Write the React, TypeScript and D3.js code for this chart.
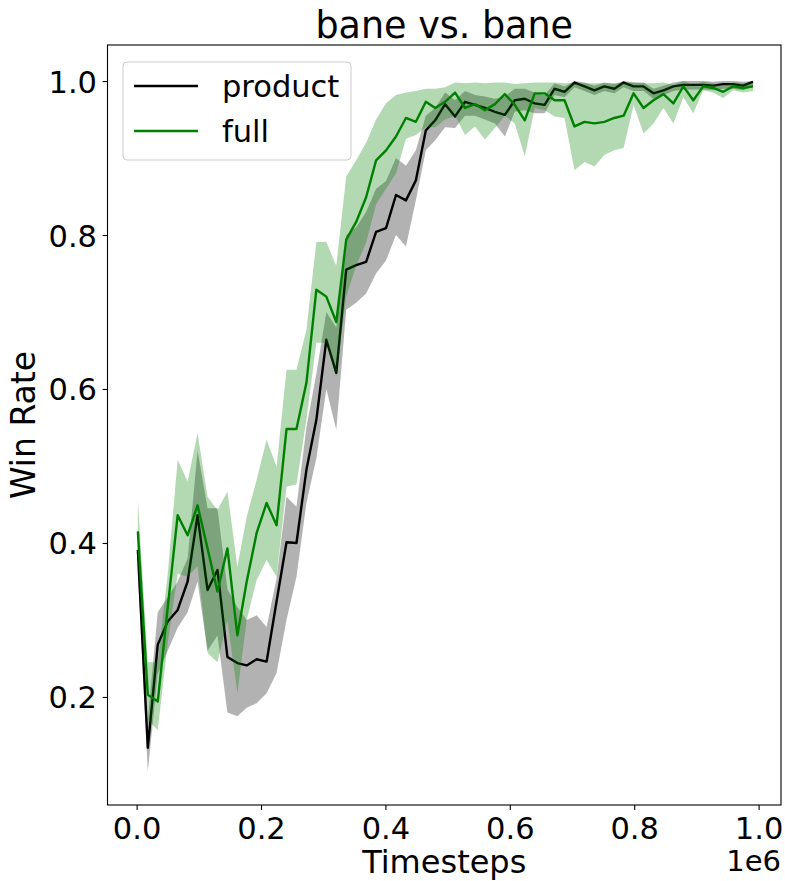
import { useEffect, useRef } from "react";
import * as d3 from "d3";

// timesteps in units of 1e6
const timesteps = [
  0.002, 0.018, 0.034, 0.050, 0.066, 0.082, 0.098, 0.114, 0.130, 0.146,
  0.162, 0.177, 0.193, 0.209, 0.225, 0.241, 0.257, 0.273, 0.289, 0.305,
  0.321, 0.337, 0.353, 0.369, 0.385, 0.401, 0.417, 0.433, 0.449, 0.465,
  0.480, 0.496, 0.512, 0.528, 0.544, 0.560, 0.576, 0.592, 0.608, 0.624,
  0.640, 0.656, 0.672, 0.688, 0.704, 0.720, 0.736, 0.752, 0.768, 0.783,
  0.799, 0.815, 0.831, 0.847, 0.863, 0.879, 0.895, 0.911, 0.927, 0.943,
  0.959, 0.975, 0.991,
];

const product = [
  0.391, 0.134, 0.268, 0.298, 0.313, 0.350, 0.436, 0.339, 0.365, 0.252,
  0.244, 0.241, 0.249, 0.246, 0.324, 0.401, 0.400, 0.495, 0.560, 0.664,
  0.621, 0.755, 0.761, 0.765, 0.804, 0.809, 0.852, 0.845, 0.871, 0.936,
  0.949, 0.970, 0.954, 0.973, 0.969, 0.965, 0.960, 0.956, 0.975, 0.977,
  0.971, 0.969, 0.990, 0.986, 0.998, 0.993, 0.988, 0.993, 0.990, 0.998,
  0.993, 0.993, 0.984, 0.988, 0.993, 0.995, 0.995, 0.995, 0.994, 0.996,
  0.996, 0.994, 0.999,
];
const productLow = [
  0.360, 0.103, 0.230, 0.260, 0.290, 0.310, 0.350, 0.260, 0.280, 0.180,
  0.175, 0.186, 0.192, 0.205, 0.231, 0.300, 0.356, 0.452, 0.510, 0.600,
  0.547, 0.703, 0.712, 0.724, 0.750, 0.767, 0.800, 0.785, 0.845, 0.910,
  0.923, 0.940, 0.939, 0.955, 0.955, 0.950, 0.945, 0.928, 0.960, 0.962,
  0.958, 0.958, 0.982, 0.979, 0.992, 0.987, 0.982, 0.987, 0.984, 0.992,
  0.987, 0.987, 0.977, 0.982, 0.987, 0.989, 0.989, 0.989, 0.988, 0.990,
  0.990, 0.988, 0.993,
];
const productHigh = [
  0.420, 0.170, 0.310, 0.330, 0.350, 0.380, 0.520, 0.445, 0.445, 0.340,
  0.317, 0.300, 0.306, 0.291, 0.354, 0.460, 0.447, 0.550, 0.620, 0.700,
  0.680, 0.800, 0.810, 0.830, 0.860, 0.870, 0.900, 0.890, 0.910, 0.955,
  0.965, 0.985, 0.975, 0.987, 0.982, 0.980, 0.977, 0.980, 0.990, 0.990,
  0.985, 0.982, 0.997, 0.993, 1.000, 0.998, 0.994, 0.998, 0.996, 1.000,
  0.998, 0.998, 0.990, 0.994, 0.998, 1.000, 1.000, 1.000, 0.999, 1.000,
  1.000, 0.999, 1.000,
];

const full = [
  0.415, 0.203, 0.194, 0.316, 0.436, 0.410, 0.449, 0.393, 0.337, 0.393,
  0.280, 0.350, 0.413, 0.452, 0.423, 0.548, 0.548, 0.608, 0.729, 0.720,
  0.687, 0.794, 0.817, 0.849, 0.897, 0.910, 0.928, 0.952, 0.947, 0.973,
  0.965, 0.973, 0.985, 0.965, 0.970, 0.962, 0.970, 0.983, 0.969, 0.949,
  0.984, 0.984, 0.975, 0.975, 0.941, 0.947, 0.945, 0.947, 0.952, 0.955,
  0.984, 0.965, 0.975, 0.983, 0.971, 0.993, 0.975, 0.993, 0.991, 0.986,
  0.993, 0.991, 0.993,
];
const fullLow = [
  0.375, 0.170, 0.157, 0.270, 0.360, 0.356, 0.370, 0.257, 0.245, 0.300,
  0.205, 0.300, 0.352, 0.378, 0.356, 0.473, 0.476, 0.560, 0.660, 0.660,
  0.616, 0.720, 0.760, 0.790, 0.840, 0.860, 0.880, 0.925, 0.930, 0.940,
  0.940, 0.950, 0.955, 0.930, 0.941, 0.924, 0.939, 0.955, 0.945, 0.902,
  0.965, 0.962, 0.954, 0.952, 0.884, 0.895, 0.889, 0.904, 0.910, 0.913,
  0.969, 0.932, 0.945, 0.965, 0.945, 0.979, 0.958, 0.988, 0.985, 0.978,
  0.988, 0.985, 0.987,
];
const fullHigh = [
  0.456, 0.245, 0.245, 0.360, 0.508, 0.480, 0.543, 0.460, 0.443, 0.467,
  0.369, 0.434, 0.482, 0.534, 0.499, 0.625, 0.625, 0.677, 0.791, 0.791,
  0.760, 0.876, 0.897, 0.920, 0.950, 0.971, 0.982, 0.985, 0.987, 0.990,
  0.990, 0.992, 0.998, 0.997, 0.998, 0.997, 0.998, 0.998, 0.996, 0.997,
  0.998, 0.998, 0.998, 0.997, 0.997, 0.997, 0.997, 0.997, 0.997, 0.997,
  0.998, 0.997, 0.997, 0.998, 0.995, 1.000, 0.995, 0.999, 0.997, 0.994,
  0.998, 0.997, 0.998,
];

const xTicks = [0, 0.2, 0.4, 0.6, 0.8, 1.0];
const yTicks = [0.2, 0.4, 0.6, 0.8, 1.0];

const series = [
  { name: "product", color: "#000000", mean: product, low: productLow, high: productHigh },
  { name: "full", color: "#008000", mean: full, low: fullLow, high: fullHigh },
];

const W = 785;
const H = 881;
const box = { left: 107.5, right: 781, top: 45, bottom: 805 };
const FONT = "DejaVu Sans, sans-serif";

export default function App() {
  const xAxisRef = useRef<SVGGElement>(null);
  const yAxisRef = useRef<SVGGElement>(null);

  const x = d3.scaleLinear().domain([-0.0468, 1.036]).range([box.left, box.right]);
  const y = d3.scaleLinear().domain([0.0597, 1.0468]).range([box.bottom, box.top]);

  useEffect(() => {
    const xAxis = d3.axisBottom(x).tickValues(xTicks).tickFormat(d3.format(".1f")).tickSize(4.9).tickPadding(4.9);
    const yAxis = d3.axisLeft(y).tickValues(yTicks).tickFormat(d3.format(".1f")).tickSize(4.9).tickPadding(5.6);

    const gx = d3.select(xAxisRef.current!).call(xAxis);
    gx.select(".domain").remove();
    gx.attr("font-size", 30.5).attr("font-family", FONT);
    gx.selectAll("line").attr("stroke-width", 1.1);
    gx.selectAll("text").attr("dy", "0.78em");

    const gy = d3.select(yAxisRef.current!).call(yAxis);
    gy.select(".domain").remove();
    gy.attr("font-size", 30.5).attr("font-family", FONT);
    gy.selectAll("line").attr("stroke-width", 1.1);
    gy.selectAll("text").attr("dy", "0.36em");
  }, []);

  const line = (vals: number[]) =>
    d3.line<number>().x((_, i) => x(timesteps[i])).y((d) => y(d))(vals) ?? "";
  const band = (lo: number[], hi: number[]) =>
    d3
      .area<number>()
      .x((_, i) => x(timesteps[i]))
      .y0((_, i) => y(lo[i]))
      .y1((_, i) => y(hi[i]))(lo) ?? "";

  return (
    <svg
      width={W}
      height={H}
      style={{ position: "absolute", left: 0, top: 0, background: "#fff" }}
      fontFamily={FONT}
    >
      <defs>
        <clipPath id="plot-clip">
          <rect x={box.left} y={box.top} width={box.right - box.left} height={box.bottom - box.top} />
        </clipPath>
      </defs>

      <g clipPath="url(#plot-clip)">
        {series.map((s) => (
          <g key={s.name}>
            <path d={band(s.low, s.high)} fill={s.color} fillOpacity={0.3} stroke="none" />
            <path d={line(s.mean)} fill="none" stroke={s.color} strokeWidth={2.4} strokeLinejoin="round" />
          </g>
        ))}
      </g>

      <rect
        x={box.left}
        y={box.top}
        width={box.right - box.left}
        height={box.bottom - box.top}
        fill="none"
        stroke="#000"
        strokeWidth={1.1}
      />

      <g ref={xAxisRef} transform={`translate(0,${box.bottom})`} />
      <g ref={yAxisRef} transform={`translate(${box.left},0)`} />

      <text x={(box.left + box.right) / 2} y={37.5} textAnchor="middle" fontSize={36.5}>
        bane vs. bane
      </text>
      <text x={(box.left + box.right) / 2} y={873} textAnchor="middle" fontSize={32}>
        Timesteps
      </text>
      <text x={box.right} y={871} textAnchor="end" fontSize={29}>
        1e6
      </text>
      <text transform={`translate(35,${(box.top + box.bottom) / 2}) rotate(-90)`} textAnchor="middle" fontSize={33}>
        Win Rate
      </text>

      <g>
        <rect x={123} y={62} width={228} height={98} rx={4} fill="#fff" fillOpacity={0.8} stroke="#cccccc" strokeWidth={1} />
        {series.map((s, i) => (
          <g key={s.name} transform={`translate(0,${i * 45})`}>
            <line x1={134} x2={198} y1={86} y2={86} stroke={s.color} strokeWidth={2.4} />
            <text x={222} y={96.5} fontSize={30.5}>
              {s.name}
            </text>
          </g>
        ))}
      </g>
    </svg>
  );
}
